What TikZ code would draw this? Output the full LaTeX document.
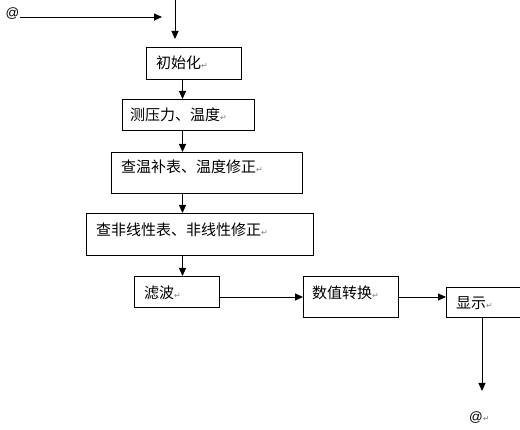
\documentclass[tikz,border=0pt]{standalone}
\usepackage{fontspec}
\setmainfont{Liberation Sans}
\newfontfamily\cjk{Noto Sans CJK SC}
\newfontfamily\symf{DejaVu Sans}
\usetikzlibrary{arrows.meta}
\newcommand{\retmark}{{\symf\fontsize{8pt}{8pt}\selectfont\color{gray}↵}}
\tikzset{
  box/.style={draw, line width=0.9pt, rectangle, inner sep=0pt, outer sep=0pt, anchor=north west},
  txt/.style={inner sep=0pt, anchor=west, font=\cjk\fontsize{15pt}{15pt}\selectfont},
  atsign/.style={inner sep=0pt, anchor=west, font=\fontsize{13.5pt}{13.5pt}\selectfont},
  arr/.style={line width=0.9pt, -{Triangle[length=8pt,width=7pt]}},
}
\begin{document}
\begin{tikzpicture}[x=1pt,y=-1pt]
\useasboundingbox (0,0) rectangle (520,430);
\clip (0,0) rectangle (520,430);
% columns
\coordinate (col) at (182.5,0);
\coordinate (topstart) at (175,0);
\coordinate (topend) at (175,39);
\coordinate (hend) at (162,17);
\coordinate (botcol) at (482,0);
\coordinate (botend) at (482,391);
% top @
\node[atsign] (at1) at (5.5,14) {@};
% boxes
\node[box, minimum width=95pt, minimum height=32pt] (b1) at (146,47) {};
\node[box, minimum width=132pt, minimum height=31pt] (b2) at (122,99) {};
\node[box, minimum width=191pt, minimum height=41pt] (b3) at (111,152) {};
\node[box, minimum width=227pt, minimum height=42pt] (b4) at (86,213) {};
\node[box, minimum width=85pt, minimum height=31pt] (b5) at (134,276) {};
\node[box, minimum width=95pt, minimum height=41pt] (b6) at (303,276) {};
\node[box, minimum width=90pt, minimum height=30pt] (b7) at (446,287) {};
% texts
\node[txt] (t1) at (156,63) {初始化\retmark};
\node[txt] (t2) at (130,115) {测压力、温度\retmark};
\node[txt] (t3) at (121,167) {查温补表、温度修正\retmark};
\node[txt] (t4) at (96,230) {查非线性表、非线性修正\retmark};
\node[txt] (t5) at (144,293) {滤波\retmark};
\node[txt] (t6) at (312,293) {数值转换\retmark};
\node[txt] (t7) at (456,303) {显示\retmark};
% bottom @
\node[atsign] (at2) at (469,418) {@\retmark};
% connectors
\draw[arr] (at1.east |- hend) -- (hend);
\draw[arr] (topstart) -- (topend);
\draw[arr] (b1.south -| col) -- (b2.north -| col);
\draw[arr] (b2.south -| col) -- (b3.north -| col);
\draw[arr] (b3.south -| col) -- (b4.north -| col);
\draw[arr] (b4.south -| col) -- (b5.north -| col);
\draw[arr] (b5.east |- 0,297) -- (b6.west |- 0,297);
\draw[arr] (b6.east |- 0,297) -- (b7.west |- 0,297);
\draw[arr] (b7.south -| botcol) -- (botend);
\end{tikzpicture}
\end{document}
